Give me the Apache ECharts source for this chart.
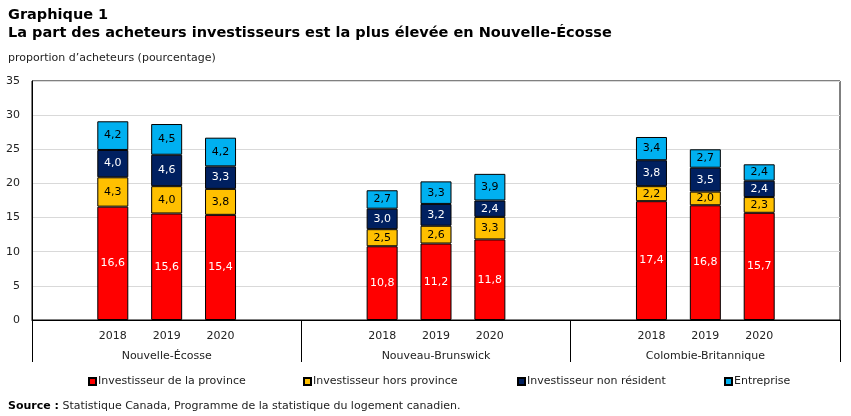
<!DOCTYPE html>
<html><head><meta charset="utf-8">
<script src="https://cdn.jsdelivr.net/npm/echarts@6/dist/echarts.min.js"></script>
<style>html,body{margin:0;padding:0;background:#fff}#c{width:851px;height:416px}</style>
</head><body><div id="c"></div>
<script>
const FONT = 'DejaVu Sans';
const groups = ['Nouvelle-Écosse', 'Nouveau-Brunswick', 'Colombie-Britannique'];
const years = ['2018', '2019', '2020'];
const seriesNames = ['Investisseur de la province', 'Investisseur hors province', 'Investisseur non résident', 'Entreprise'];
const province = [16.6, 15.6, 15.4, 10.8, 11.2, 11.8, 17.4, 16.8, 15.7];
const horsProvince = [4.3, 4.0, 3.8, 2.5, 2.6, 3.3, 2.2, 2.0, 2.3];
const nonResident = [4.0, 4.6, 3.3, 3.0, 3.2, 2.4, 3.8, 3.5, 2.4];
const entreprise = [4.2, 4.5, 4.2, 2.7, 3.3, 3.9, 3.4, 2.7, 2.4];
const yTicks = [0, 5, 10, 15, 20, 25, 30, 35];
const colors = ['#ff0000', '#ffc000', '#002060', '#00b0f0'];
const labelColors = ['#ffffff', '#000000', '#ffffff', '#000000'];

// 15 slots: each group = blank, 2018, 2019, 2020, blank
const slots = [];
const slotIndex = [];
groups.forEach((g, gi) => {
  slots.push('');
  years.forEach((y, yi) => { slotIndex.push(slots.length); slots.push(y); });
  slots.push('');
});
function expand(arr) {
  const out = slots.map(() => '-');
  arr.forEach((v, i) => { out[slotIndex[i]] = v; });
  return out;
}
const allData = [province, horsProvince, nonResident, entreprise];

const chart = echarts.init(document.getElementById('c'));
chart.setOption({
  animation: false,
  textStyle: { fontFamily: FONT },
  title: [
    { text: 'Graphique 1', left: 3, top: 3, textStyle: { fontFamily: FONT, fontSize: 14.5, fontWeight: 'bold', color: '#000' } },
    { text: 'La part des acheteurs investisseurs est la plus élevée en Nouvelle-Écosse', left: 3, top: 21, textStyle: { fontFamily: FONT, fontSize: 14.5, fontWeight: 'bold', color: '#000' } },
    { text: 'proportion d’acheteurs (pourcentage)', left: 3, top: 48, textStyle: { fontFamily: FONT, fontSize: 11, fontWeight: 'normal', color: '#222' } },
    { text: '{b|Source :} Statistique Canada, Programme de la statistique du logement canadien.', left: 3, top: 396,
      textStyle: { fontFamily: FONT, fontSize: 11, fontWeight: 'normal', color: '#222',
        rich: { b: { fontFamily: FONT, fontSize: 11, fontWeight: 'bold', color: '#000' } } } }
  ],
  legend: seriesNames.map((n, i) => ({
    data: [n], left: [83, 298, 512, 719][i], top: 371, itemWidth: 7, itemHeight: 7, itemGap: 0,
    icon: 'rect', textStyle: { fontFamily: FONT, fontSize: 11, color: '#222', padding: [0, 0, 0, -3] }
  })),
  grid: { left: 32, right: 11, top: 81, bottom: 96, show: true, borderColor: '#000', borderWidth: 1, containLabel: false },
  xAxis: [
    { type: 'category', data: slots, gridIndex: 0, position: 'bottom',
      axisLine: { show: true, lineStyle: { color: '#000', width: 1 } },
      axisTick: { show: false },
      axisLabel: { interval: 0, margin: 11, fontFamily: FONT, fontSize: 11, color: '#222' } },
    { type: 'category', data: groups, gridIndex: 0, position: 'bottom',
      axisLine: { show: false },
      axisTick: { show: true, length: 42, lineStyle: { color: '#000', width: 1 } },
      axisLabel: { interval: 0, margin: 31, fontFamily: FONT, fontSize: 11, color: '#222' } }
  ],
  yAxis: { type: 'value', min: yTicks[0], max: yTicks[yTicks.length - 1], interval: 5,
    axisLine: { show: true, lineStyle: { color: '#000' } },
    axisTick: { show: false },
    axisLabel: { margin: 12, fontFamily: FONT, fontSize: 11, color: '#222' },
    splitLine: { show: true, lineStyle: { color: '#d9d9d9', width: 1 } } },
  series: seriesNames.map((n, i) => ({
    name: n, type: 'bar', stack: 'total', xAxisIndex: 0, barWidth: 31,
    data: expand(allData[i]),
    itemStyle: { color: colors[i], borderColor: '#000', borderWidth: 1 },
    label: { show: true, position: 'inside', fontFamily: FONT, fontSize: 11, color: labelColors[i],
      formatter: p => String(p.value.toFixed(1)).replace('.', ',') }
  }))
});
</script></body></html>
